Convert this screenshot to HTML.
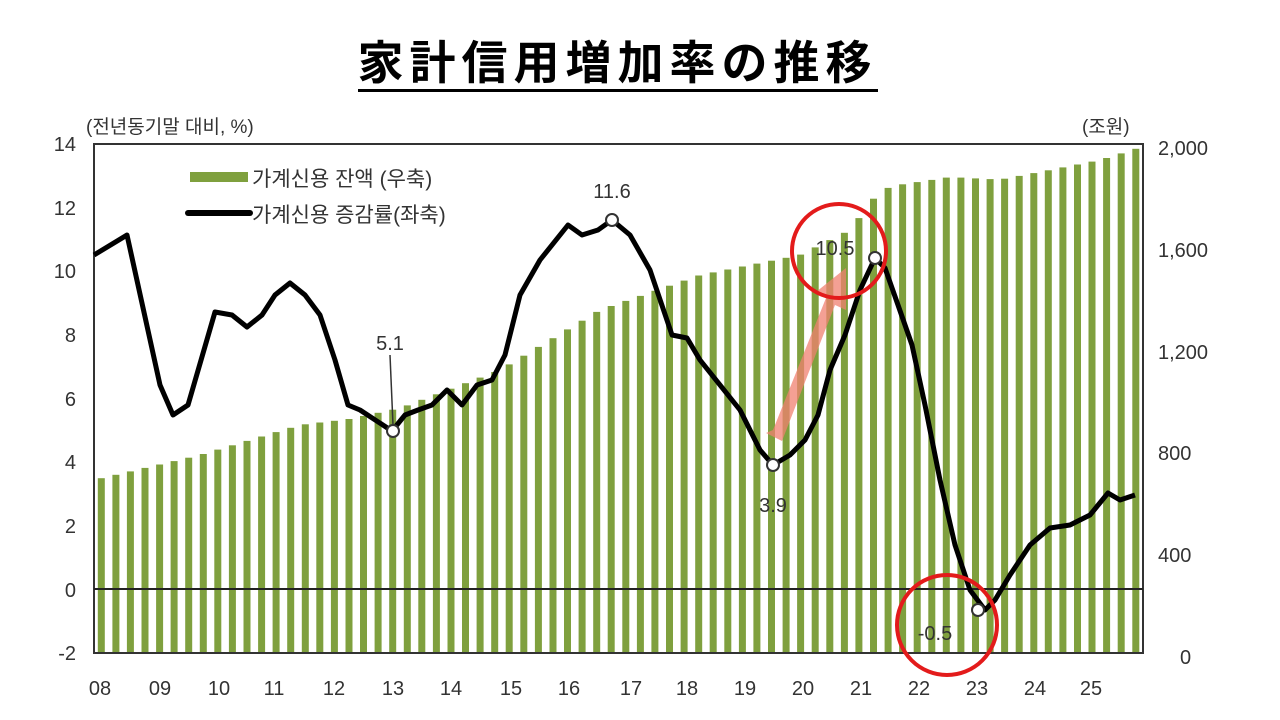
<!DOCTYPE html>
<html><head><meta charset="utf-8"><style>
body{margin:0;background:#fff;width:1280px;height:720px;overflow:hidden;font-family:"Liberation Sans","Noto Sans CJK KR",sans-serif}
.t{position:absolute;left:0;width:1235px;top:27px;text-align:center;font:bold 46px "Liberation Sans","Noto Sans CJK JP",sans-serif;letter-spacing:6px}
.t span{border-bottom:3px solid #000;padding-bottom:0px}
</style></head><body>
<div class="t"><span>家計信用増加率の推移</span></div>
<svg id="s" width="1280" height="720" style="position:absolute;left:0;top:0" font-family="Liberation Sans, Noto Sans CJK KR, sans-serif" font-size="20" fill="#333">
<g id="bars"></g>
<rect x="94" y="144" width="1049" height="509" fill="none" stroke="#333" stroke-width="2"/>
<line x1="94" y1="589" x2="1143" y2="589" stroke="#222" stroke-width="2"/>
<g text-anchor="end">
<text x="76" y="151">14</text><text x="76" y="215">12</text><text x="76" y="278">10</text><text x="76" y="342">8</text><text x="76" y="406">6</text><text x="76" y="469">4</text><text x="76" y="533">2</text><text x="76" y="597">0</text><text x="76" y="660">-2</text>
</g>
<g text-anchor="start">
<text x="1158" y="155">2,000</text><text x="1158" y="257">1,600</text><text x="1158" y="359">1,200</text><text x="1158" y="460">800</text><text x="1158" y="562">400</text><text x="1180" y="664">0</text>
</g>
<text x="86" y="133" font-size="19">(전년동기말 대비, %)</text>
<text x="1082" y="133" font-size="19">(조원)</text>
<g text-anchor="middle" id="xl">
<text x="100" y="695">08</text><text x="160" y="695">09</text><text x="219" y="695">10</text><text x="274" y="695">11</text><text x="334" y="695">12</text><text x="393" y="695">13</text><text x="451" y="695">14</text><text x="511" y="695">15</text><text x="569" y="695">16</text><text x="631" y="695">17</text><text x="687" y="695">18</text><text x="745" y="695">19</text><text x="803" y="695">20</text><text x="861" y="695">21</text><text x="919" y="695">22</text><text x="977" y="695">23</text><text x="1035" y="695">24</text><text x="1091" y="695">25</text>
</g>
<rect x="190" y="172" width="58" height="10" fill="#7fa03e"/>
<line x1="188" y1="213" x2="250" y2="213" stroke="#000" stroke-width="6" stroke-linecap="round"/>
<text x="252" y="186" font-size="21">가계신용 잔액 (우축)</text>
<text x="252" y="222" font-size="21">가계신용 증감률(좌축)</text>
<polyline fill="none" stroke="#000" stroke-width="5" stroke-linejoin="round" points="94,255 127,235 160,385 173,415 188,405 215,312 232,315 247,327 262,315 275,295 290,283 305,295 320,315 335,360 348,405 360,410 392,431 405,415 418,410 432,405 447,390 462,405 477,385 492,380 505,355 520,295 540,260 568,225 582,235 598,230 612,220 630,235 650,270 672,335 687,338 700,360 740,410 760,450 773,465 790,455 805,440 818,415 830,370 845,335 860,290 875,258 885,268 898,305 912,345 925,405 940,480 955,545 970,590 985,610 995,600 1010,575 1030,545 1050,528 1070,525 1090,515 1108,493 1120,500 1135,495"/>
<g fill="#fff" stroke="#333" stroke-width="2">
<circle cx="393" cy="431" r="6"/><circle cx="612" cy="220" r="6"/><circle cx="773" cy="465" r="6"/><circle cx="875" cy="258" r="6"/><circle cx="978" cy="610" r="6"/>
</g>
<line x1="393" y1="425" x2="390" y2="355" stroke="#333" stroke-width="1.5"/>
<text x="390" y="350" text-anchor="middle">5.1</text>
<text x="612" y="198" text-anchor="middle">11.6</text>
<text x="773" y="512" text-anchor="middle">3.9</text>
<text x="835" y="255" text-anchor="middle">10.5</text>
<text x="935" y="640" text-anchor="middle">-0.5</text>
<polygon points="766,433 782,441 835,305 846,310 846,268 816,292 826,298 773,430" fill="#f08070" opacity="0.75"/>
<circle cx="839" cy="251" r="47" fill="none" stroke="#e31b1b" stroke-width="4"/>
<circle cx="947" cy="625" r="50" fill="none" stroke="#e31b1b" stroke-width="4"/>
</svg>
<script>
var a=[[94,680],[200,778],[300,896],[350,920],[400,962],[500,1112],[600,1348],[700,1485],[800,1564],[850,1662],[880,1819],[900,1840],[950,1870],[1000,1860],[1050,1898],[1100,1937],[1143,1990]];
function v(x){for(var i=0;i<a.length-1;i++){if(x<=a[i+1][0]){var t=(x-a[i][0])/(a[i+1][0]-a[i][0]);return a[i][1]+t*(a[i+1][1]-a[i][1]);}}return a[a.length-1][1];}
var g=document.getElementById('bars'),h='';
for(var i=0;i<72;i++){var cx=94+14.57*(i+0.5);var val=v(cx);var y=653-val/2000*509;h+='<rect x="'+(cx-3.5).toFixed(1)+'" y="'+y.toFixed(1)+'" width="7" height="'+(653-y).toFixed(1)+'" fill="#7fa03e"/>';}
g.innerHTML=h;
</script>
</body></html>
